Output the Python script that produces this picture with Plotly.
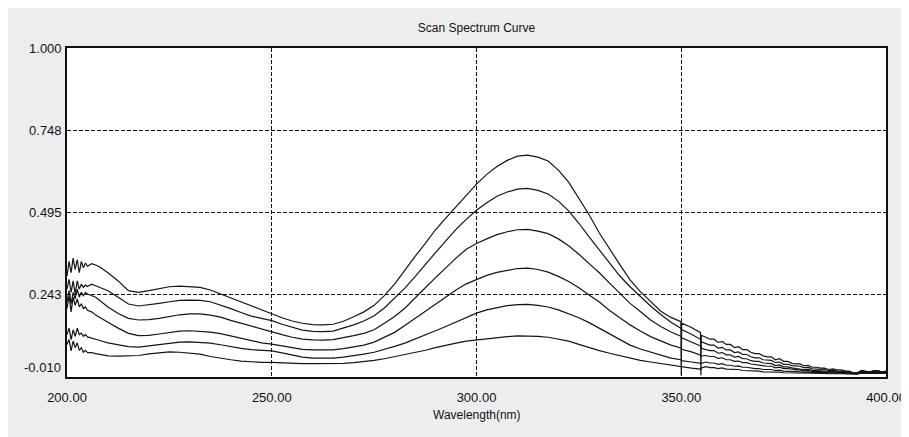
import plotly.graph_objects as go

# Wavelength grid (nm)
WL = [
    200, 200.5, 201, 201.5, 202, 202.5, 203, 203.5, 204, 204.5, 205, 206, 207, 208,
    210, 212.5, 215, 217.5, 220, 222.5, 225, 227.5, 230, 232.5,
    235, 237.5, 240, 242.5, 245, 247.5, 250, 252.5, 255, 257.5,
    260, 262.5, 265, 267.5, 270, 272.5, 275, 277.5, 280, 282.5,
    285, 287.5, 290, 292.5, 295, 297.5, 300, 302.5, 305, 307.5,
    310, 312.5, 315, 317.5, 320, 322.5, 325, 327.5, 330, 332.5,
    335, 337.5, 340, 342.5, 345, 347.5,
    349.9, 350.0, 350.1, 352.5, 354.7, 354.8, 354.9,
    356, 357, 358, 359, 360, 361, 362, 363, 364, 365,
    366, 367, 368, 369, 370, 371, 372, 373, 374, 375,
    376, 377, 378, 379, 380, 381, 382, 383, 384, 385,
    386, 387, 388, 389, 390, 391, 392, 393, 394, 395,
    396, 397, 398, 399, 400,
]

CURVE_1 = [
    0.30, 0.345, 0.31, 0.355, 0.32, 0.35, 0.31, 0.345, 0.325, 0.34, 0.33, 0.338, 0.334, 0.328,
    0.310, 0.285, 0.255, 0.250, 0.255, 0.262, 0.267, 0.269, 0.268, 0.265,
    0.257, 0.245, 0.233, 0.220, 0.207, 0.195, 0.184, 0.172, 0.162, 0.155,
    0.151, 0.150, 0.152, 0.161, 0.175, 0.190, 0.210, 0.240, 0.275, 0.318,
    0.360, 0.400, 0.442, 0.478, 0.513, 0.550, 0.582, 0.612, 0.636, 0.655,
    0.668, 0.671, 0.665, 0.653, 0.625, 0.588, 0.540, 0.488, 0.432, 0.382,
    0.335, 0.288, 0.252, 0.222, 0.192, 0.173,
    0.160, -0.005, 0.155, 0.142, 0.126, -0.005, 0.118,
    0.112, 0.106, 0.106, 0.096, 0.099, 0.090, 0.090, 0.080, 0.083, 0.074,
    0.074, 0.066, 0.062, 0.062, 0.055, 0.052, 0.052, 0.043, 0.046, 0.038,
    0.038, 0.032, 0.030, 0.030, 0.024, 0.026, 0.020, 0.020, 0.017, 0.017,
    0.013, 0.015, 0.012, 0.012, 0.009, 0.008, 0.003, 0.003, 0.010, 0.009,
    0.006, 0.010, 0.010, 0.006, 0.008,
]

CURVE_2 = [
    0.26, 0.29, 0.25, 0.285, 0.245, 0.285, 0.26, 0.275, 0.265, 0.272, 0.268, 0.275, 0.27, 0.265,
    0.255, 0.235, 0.214, 0.208, 0.211, 0.216, 0.221, 0.225, 0.226, 0.225,
    0.221, 0.211, 0.200, 0.188, 0.177, 0.170, 0.163, 0.152, 0.142, 0.134,
    0.130, 0.129, 0.131, 0.140, 0.150, 0.162, 0.178, 0.202, 0.232, 0.263,
    0.298, 0.336, 0.372, 0.408, 0.443, 0.474, 0.502, 0.525, 0.545, 0.558,
    0.567, 0.569, 0.563, 0.552, 0.530, 0.500, 0.462, 0.420, 0.380, 0.337,
    0.300, 0.267, 0.237, 0.208, 0.182, 0.158,
    0.140, 0.139, 0.136, 0.121, 0.106, 0.105, 0.098,
    0.092, 0.088, 0.088, 0.079, 0.081, 0.073, 0.073, 0.065, 0.067, 0.059,
    0.059, 0.052, 0.049, 0.049, 0.043, 0.041, 0.041, 0.034, 0.036, 0.029,
    0.029, 0.025, 0.023, 0.023, 0.018, 0.020, 0.015, 0.015, 0.013, 0.013,
    0.010, 0.011, 0.008, 0.008, 0.006, 0.006, 0.002, 0.002, 0.008, 0.007,
    0.004, 0.008, 0.008, 0.004, 0.006,
]

CURVE_3 = [
    0.22, 0.255, 0.215, 0.25, 0.23, 0.26, 0.235, 0.25, 0.24, 0.25, 0.245, 0.24, 0.235, 0.225,
    0.205, 0.185, 0.170, 0.165, 0.166, 0.170, 0.176, 0.181, 0.184, 0.184,
    0.180, 0.174, 0.164, 0.155, 0.145, 0.137, 0.129, 0.120, 0.112, 0.106,
    0.104, 0.103, 0.105, 0.110, 0.117, 0.124, 0.135, 0.155, 0.176, 0.201,
    0.234, 0.264, 0.295, 0.326, 0.355, 0.382, 0.400, 0.414, 0.427, 0.436,
    0.442, 0.443, 0.438, 0.430, 0.414, 0.393, 0.367, 0.338, 0.310, 0.278,
    0.246, 0.216, 0.191, 0.165, 0.145, 0.128,
    0.115, 0.114, 0.110, 0.098, 0.085, 0.084, 0.078,
    0.074, 0.071, 0.071, 0.063, 0.065, 0.058, 0.058, 0.051, 0.053, 0.046,
    0.046, 0.040, 0.038, 0.038, 0.033, 0.031, 0.031, 0.025, 0.027, 0.021,
    0.021, 0.018, 0.016, 0.016, 0.012, 0.014, 0.010, 0.010, 0.009, 0.009,
    0.007, 0.008, 0.005, 0.005, 0.004, 0.004, 0.001, 0.001, 0.006, 0.005,
    0.003, 0.006, 0.006, 0.003, 0.004,
]

CURVE_4 = [
    0.20, 0.24, 0.19, 0.235, 0.21, 0.23, 0.205, 0.215, 0.20, 0.205, 0.195, 0.19, 0.18, 0.172,
    0.158, 0.140, 0.124, 0.117, 0.118, 0.122, 0.127, 0.131, 0.132, 0.131,
    0.128, 0.123, 0.116, 0.108, 0.101, 0.095, 0.091, 0.085, 0.079, 0.075,
    0.073, 0.072, 0.073, 0.077, 0.082, 0.088, 0.097, 0.111, 0.127, 0.148,
    0.170, 0.193, 0.214, 0.236, 0.257, 0.276, 0.290, 0.302, 0.311, 0.318,
    0.323, 0.324, 0.320, 0.312, 0.299, 0.283, 0.264, 0.242, 0.220, 0.194,
    0.172, 0.150, 0.131, 0.114, 0.101, 0.088,
    0.079, 0.078, 0.075, 0.067, 0.058, 0.057, 0.054,
    0.056, 0.053, 0.053, 0.047, 0.049, 0.043, 0.043, 0.038, 0.039, 0.034,
    0.034, 0.030, 0.028, 0.028, 0.024, 0.023, 0.023, 0.018, 0.020, 0.016,
    0.016, 0.013, 0.012, 0.012, 0.009, 0.010, 0.007, 0.007, 0.006, 0.006,
    0.005, 0.006, 0.004, 0.004, 0.003, 0.003, 0.000, 0.000, 0.005, 0.004,
    0.002, 0.005, 0.005, 0.002, 0.003,
]

CURVE_5 = [
    0.12, 0.14, 0.105, 0.135, 0.115, 0.14, 0.12, 0.125, 0.115, 0.12, 0.113, 0.11, 0.106, 0.102,
    0.095, 0.088, 0.083, 0.082, 0.086, 0.091, 0.095, 0.097, 0.098, 0.097,
    0.094, 0.089, 0.083, 0.078, 0.074, 0.072, 0.070, 0.064, 0.057, 0.051,
    0.048, 0.047, 0.048, 0.051, 0.055, 0.060, 0.066, 0.074, 0.084, 0.094,
    0.106, 0.118, 0.132, 0.145, 0.159, 0.173, 0.186, 0.196, 0.203, 0.209,
    0.212, 0.213, 0.210, 0.205, 0.196, 0.185, 0.172, 0.157, 0.140, 0.121,
    0.104, 0.088, 0.076, 0.066, 0.056, 0.048,
    0.043, 0.042, 0.040, 0.036, 0.031, 0.030, 0.032,
    0.036, 0.033, 0.033, 0.029, 0.031, 0.026, 0.026, 0.023, 0.024, 0.020,
    0.020, 0.017, 0.016, 0.016, 0.013, 0.013, 0.013, 0.010, 0.011, 0.008,
    0.008, 0.007, 0.006, 0.006, 0.005, 0.006, 0.004, 0.004, 0.003, 0.003,
    0.002, 0.003, 0.002, 0.002, 0.001, 0.001, 0.000, 0.000, 0.004, 0.003,
    0.001, 0.004, 0.004, 0.001, 0.002,
]

CURVE_6 = [
    0.09, 0.105, 0.07, 0.10, 0.08, 0.095, 0.072, 0.08, 0.066, 0.072, 0.065, 0.065, 0.062, 0.059,
    0.055, 0.054, 0.054, 0.056, 0.061, 0.065, 0.067, 0.066, 0.064, 0.060,
    0.053, 0.047, 0.043, 0.039, 0.036, 0.035, 0.035, 0.033, 0.032, 0.031,
    0.031, 0.031, 0.032, 0.032, 0.034, 0.037, 0.041, 0.046, 0.052, 0.058,
    0.065, 0.072, 0.080, 0.088, 0.094, 0.100, 0.104, 0.108, 0.111, 0.114,
    0.116, 0.116, 0.115, 0.112, 0.107, 0.100, 0.090, 0.080, 0.071, 0.063,
    0.055, 0.047, 0.041, 0.036, 0.031, 0.026,
    0.022, 0.022, 0.020, 0.017, 0.014, 0.013, 0.018,
    0.022, 0.019, 0.019, 0.016, 0.018, 0.014, 0.014, 0.012, 0.013, 0.010,
    0.010, 0.008, 0.008, 0.008, 0.006, 0.006, 0.006, 0.004, 0.005, 0.003,
    0.003, 0.003, 0.002, 0.002, 0.002, 0.003, 0.001, 0.001, 0.001, 0.001,
    0.000, 0.001, 0.000, 0.000, 0.000, 0.000, -0.001, -0.001, 0.002, 0.002,
    0.000, 0.002, 0.002, 0.000, 0.001,
]

CURVES = [CURVE_1, CURVE_2, CURVE_3, CURVE_4, CURVE_5, CURVE_6]
for _c in CURVES:
    assert len(_c) == len(WL), (len(_c), len(WL))

X_TICKS = [200, 250, 300, 350, 400]
X_TICK_TEXT = ["200.00", "250.00", "300.00", "350.00", "400.00"]
Y_TICKS = [0.243, 0.495, 0.748, 1.000]
Y_TICK_TEXT = ["0.243", "0.495", "0.748", "1.000"]
Y_BOTTOM_LABEL = "-0.010"
TITLE = "Scan Spectrum Curve"
X_TITLE = "Wavelength(nm)"

FONT = "Liberation Sans, Arial, sans-serif"
INK = "#111111"

fig = go.Figure()
for c in CURVES:
    fig.add_trace(go.Scatter(x=WL, y=c, mode="lines",
                             line=dict(color="#141414", width=1.2),
                             showlegend=False, hoverinfo="skip"))

# the page body has an 8px margin; the figure is sized so that it fits the window
fig.update_layout(
    width=901, height=429,
    margin=dict(l=59, r=23, t=40, b=60),
    paper_bgcolor="#ededed",
    plot_bgcolor="#ffffff",
    font=dict(family=FONT, color=INK, size=13),
    title=dict(text=TITLE, x=0.5, xref="paper",
               y=1 - 20 / 429, yref="container", xanchor="center", yanchor="middle",
               font=dict(family=FONT, size=12, color=INK)),
    showlegend=False,
)

fig.update_xaxes(
    range=[200, 400], tickvals=X_TICKS, ticktext=X_TICK_TEXT,
    showgrid=True, gridcolor=INK, griddash="4px,2px", gridwidth=1,
    showline=True, linecolor=INK, linewidth=1.6, mirror=True,
    zeroline=False, ticks="", ticklabelstandoff=8, automargin=False,
    tickfont=dict(family=FONT, size=13),
)
fig.update_yaxes(
    range=[-0.010, 1.000], tickvals=Y_TICKS, ticktext=Y_TICK_TEXT,
    showgrid=True, gridcolor=INK, griddash="4px,2px", gridwidth=1,
    showline=True, linecolor=INK, linewidth=1.6, mirror=True,
    zeroline=False, ticks="", ticklabelstandoff=1, automargin=False,
    tickfont=dict(family=FONT, size=13),
)

fig.add_annotation(text=Y_BOTTOM_LABEL, x=0, xref="paper", y=-0.010, yref="y",
                   xanchor="right", yanchor="middle", xshift=-4, yshift=10,
                   showarrow=False, font=dict(family=FONT, size=13, color=INK))
fig.add_annotation(text=X_TITLE, x=0.5, xref="paper", y=0, yref="paper",
                   xanchor="center", yanchor="middle", yshift=-38,
                   showarrow=False, font=dict(family=FONT, size=12, color=INK))

fig.write_html("out.html")
